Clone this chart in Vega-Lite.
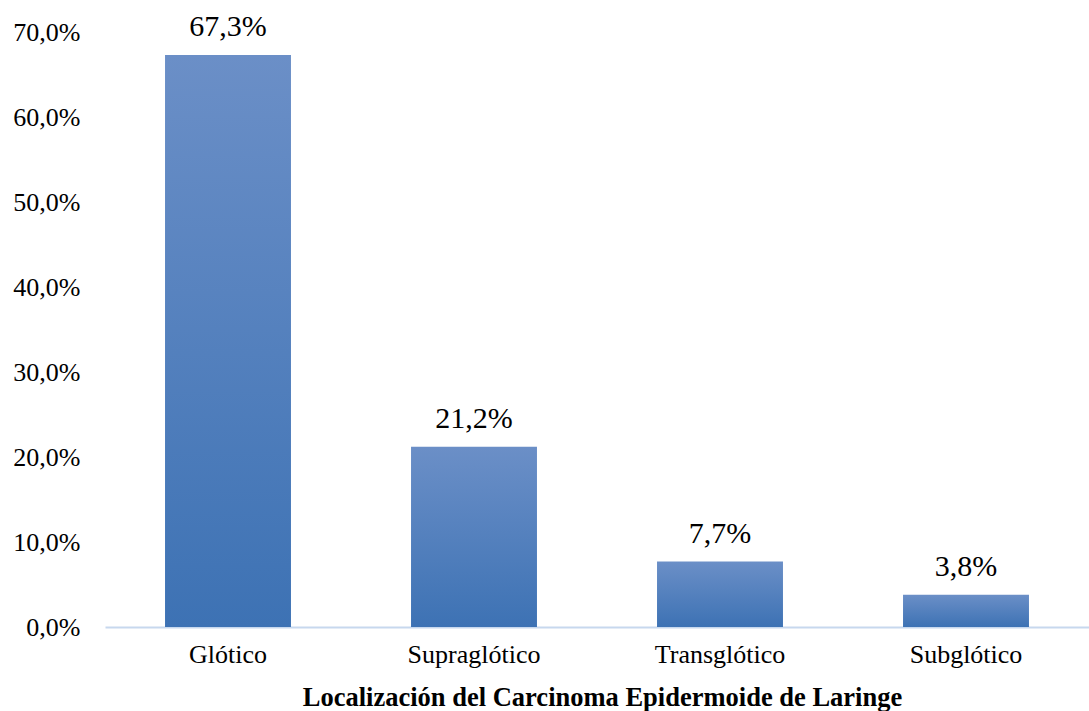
{
  "$schema": "https://vega.github.io/schema/vega-lite/v6.json",
  "width": 984,
  "height": 595,
  "autosize": "none",
  "padding": {"left": 105, "top": 32, "right": 0, "bottom": 84},
  "background": "white",
  "config": {"view": {"stroke": null}, "font": "Liberation Serif",
    "locale": {"number": {"decimal": ",", "thousands": ".", "grouping": [3], "currency": ["", " €"]}}},
  "data": {"values": [
    {"loc": "Glótico", "pct": 0.673},
    {"loc": "Supraglótico", "pct": 0.212},
    {"loc": "Transglótico", "pct": 0.077},
    {"loc": "Subglótico", "pct": 0.038}
  ]},
  "encoding": {
    "x": {"field": "loc", "type": "nominal", "sort": null,
      "scale": {"paddingInner": 0.488, "paddingOuter": 0.244},
      "axis": {"title": "Localización del Carcinoma Epidermoide de Laringe", "titleFont": "Liberation Serif", "titleFontSize": 26.5, "titleFontWeight": "bold", "titleColor": "#000", "titlePadding": 17, "titleX": 497,
        "labelAngle": 0, "labelFont": "Liberation Serif", "labelFontSize": 26, "labelColor": "#000", "labelPadding": 14, "ticks": false, "domainColor": "#c7d8ee", "domainWidth": 2}},
    "y": {"field": "pct", "type": "quantitative", "scale": {"domain": [0, 0.7]},
      "axis": {"title": null, "values": [0, 0.1, 0.2, 0.3, 0.4, 0.5, 0.6, 0.7], "format": ".1%", "grid": false, "domain": false, "ticks": false, "labelPadding": 25,
        "labelFont": "Liberation Serif", "labelFontSize": 26, "labelColor": "#000"}}
  },
  "layer": [
    {"mark": {"type": "bar", "color": {"gradient": "linear", "x1": 0, "y1": 0, "x2": 0, "y2": 1, "stops": [{"offset": 0, "color": "#6b8fc7"}, {"offset": 1, "color": "#3d72b4"}]}}},
    {"mark": {"type": "text", "font": "Liberation Serif", "fontSize": 30, "color": "#000", "baseline": "alphabetic", "dy": -19},
      "encoding": {"text": {"field": "pct", "type": "quantitative", "format": ".1%"}}}
  ]
}
